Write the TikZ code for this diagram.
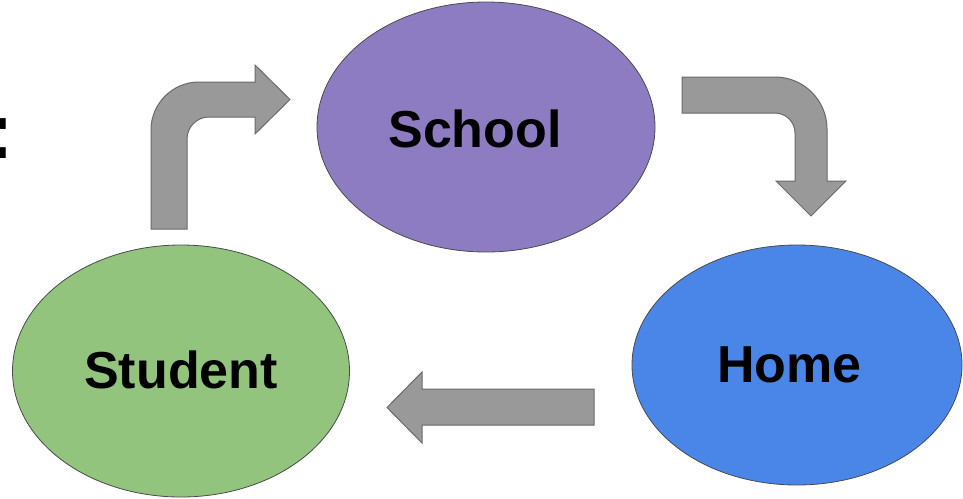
\documentclass[tikz,border=0pt]{standalone}
\usepackage{fontspec}
\setmainfont{Liberation Sans}
\usetikzlibrary{shapes.geometric}
\definecolor{schoolc}{HTML}{8E7CC3}
\definecolor{studentc}{HTML}{93C47D}
\definecolor{homec}{HTML}{4A86E8}
\definecolor{arrowfill}{HTML}{999999}
\definecolor{arrowline}{HTML}{6A6A6A}
\definecolor{ellline}{HTML}{4A4A4A}
\tikzset{
  blob/.style={ellipse, draw=ellline, line width=0.8pt, inner sep=0pt},
  lbl/.style={font=\bfseries\fontsize{52}{60}\selectfont, inner sep=0pt, text=black},
  blockarrow/.style={fill=arrowfill, draw=arrowline, line width=1pt, line join=miter},
}
\begin{document}
\begin{tikzpicture}[x=1pt,y=-1pt]
\useasboundingbox (0,0) rectangle (963,498);
\clip (0,0) rectangle (963,498);
% cut-off colon at the left edge
\node[font=\bfseries\fontsize{79}{90}\selectfont, inner sep=0pt, anchor=base west] (colon) at (-12.7,158) {:};
% ellipses
\node[blob, fill=schoolc, minimum width=338pt, minimum height=250pt] (school) at (486,127) {};
\node[lbl] (schooltxt) at (475,128.5) {School};
\node[blob, fill=studentc, minimum width=337pt, minimum height=252pt] (student) at (181,371) {};
\node[lbl] (studenttxt) at (181,370) {Student};
\node[blob, fill=homec, minimum width=330pt, minimum height=240pt] (home) at (797,365) {};
\node[lbl] (hometxt) at (789.5,365) {Home};
% arrow student -> school
\draw[blockarrow] (151,229) -- (151,130)
  .. controls (151,103.5) and (172.5,82) .. (199,82)
  -- (255,82) -- (255,65) -- (290,99.5) -- (255,134) -- (255,117)
  -- (209,117) .. controls (196.9,117) and (187,126.9) .. (187,139)
  -- (187,229) -- cycle;
% arrow school -> home
\draw[blockarrow] (682,77) -- (775,77)
  .. controls (803.7,77) and (827,100.3) .. (827,129)
  -- (827,181) -- (846,181) -- (811,216) -- (776,181) -- (795,181)
  -- (795,133) .. controls (795,122) and (786,113) .. (775,113)
  -- (682,113) -- cycle;
% arrow home -> student
\draw[blockarrow] (594,389) -- (422,389) -- (422,372) -- (387,407.5)
  -- (422,443) -- (422,425) -- (594,425) -- cycle;
\end{tikzpicture}
\end{document}
